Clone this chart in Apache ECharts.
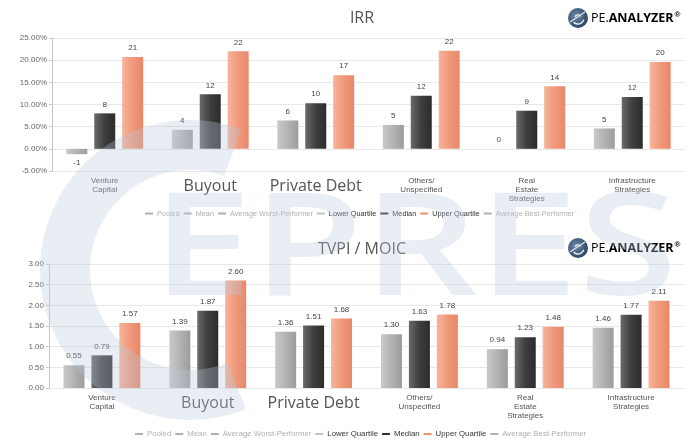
<!DOCTYPE html>
<html>
<head>
<meta charset="utf-8">
<script src="https://cdn.jsdelivr.net/npm/echarts@6/dist/echarts.min.js"></script>
<style>
html,body{margin:0;padding:0;background:#fff;}
#c{width:693px;height:440px;}
</style>
</head>
<body>
<div id="c"></div>
<script>
// ---- data ----
const categories = ['Venture\nCapital', 'Buyout', 'Private Debt', 'Others/\nUnspecified', 'Real\nEstate\nStrategies', 'Infrastructure\nStrategies'];
const bigCategories = ['Buyout', 'Private Debt'];
const seriesNames = ['Pooled', 'Mean', 'Average Worst-Performer', 'Lower Quartile', 'Median', 'Upper Quartile', 'Average Best-Performer'];
const hiddenSeries = ['Pooled', 'Mean', 'Average Worst-Performer', 'Average Best-Performer'];

// IRR in percent
const irrLowerQuartile = [-1.2, 4.3, 6.4, 5.4, 0, 4.6];
const irrMedian = [8.0, 12.3, 10.3, 12.0, 8.6, 11.7];
const irrUpperQuartile = [20.7, 22.0, 16.6, 22.1, 14.1, 19.6];

// TVPI / MOIC multiples
const tvpiLowerQuartile = [0.55, 1.39, 1.36, 1.30, 0.94, 1.46];
const tvpiMedian = [0.79, 1.87, 1.51, 1.63, 1.23, 1.77];
const tvpiUpperQuartile = [1.57, 2.60, 1.68, 1.78, 1.48, 2.11];

const irrTicks = {min: -5, max: 25, interval: 5};
const tvpiTicks = {min: 0, max: 3, interval: 0.5};

// ---- styles ----
const grad = (a, b, c) => new echarts.graphic.LinearGradient(0, 0, 1, 0, [
  {offset: 0, color: a}, {offset: 0.5, color: b}, {offset: 1, color: c}
]);
const colLQ = () => grad('#c9c9c9', '#b3b3b3', '#9c9c9c');
const colMed = () => grad('#6a6a6a', '#3e3e3e', '#2c2c2c');
const colUQ = () => grad('#f7b49b', '#f0997a', '#e8876a');
const legendColors = {
  'Pooled': '#999', 'Mean': '#999', 'Average Worst-Performer': '#999',
  'Lower Quartile': '#c4c4c4', 'Median': '#333', 'Upper Quartile': '#f0916e',
  'Average Best-Performer': '#999'
};

const chart = echarts.init(document.getElementById('c'), null, {renderer: 'canvas'});

const labelFont = 'Liberation Sans, Arial, sans-serif';

function catAxis(gridIndex) {
  return {
    type: 'category', gridIndex, data: categories,
    axisLine: {show: false}, axisTick: {show: false},
    axisLabel: {
      interval: 0, margin: 5, color: '#555',
      formatter: v => bigCategories.includes(v) ? '{big|' + v + '}' : '{s|' + v + '}',
      rich: {
        s: {fontSize: 8, lineHeight: 9, color: '#555', fontFamily: labelFont, align: 'center'},
        big: {fontSize: 16, lineHeight: 20, color: '#555', fontFamily: 'Open Sans, sans-serif'}
      }
    }
  };
}
function valAxis(gridIndex, ticks, fmt) {
  return {
    type: 'value', gridIndex, min: ticks.min, max: ticks.max, interval: ticks.interval,
    axisLine: {show: true, lineStyle: {color: '#c8c8c8'}},
    axisTick: {show: true, length: 3, lineStyle: {color: '#c8c8c8'}},
    splitLine: {lineStyle: {color: '#e8e8e8'}},
    axisLabel: {color: '#666', fontSize: 8, fontFamily: labelFont, margin: 5, formatter: fmt}
  };
}

function barSeries(name, data, xi, colorFn, fmt) {
  const hidden = hiddenSeries.includes(name);
  return {
    name, type: 'bar', xAxisIndex: xi, yAxisIndex: xi,
    barWidth: 21, barGap: '33%',
    itemStyle: {color: colorFn ? colorFn() : '#999'},
    label: {show: true, color: '#444', fontSize: 8, fontFamily: labelFont, distance: 5, formatter: p => fmt(p.value)},
    data: hidden ? [] : data.map(v => ({value: v, label: {position: v < 0 ? 'bottom' : 'top'}}))
  };
}

const irrFmt = v => String(Math.round(v));
const tvpiFmt = v => v.toFixed(2);

const series = [];
function addSet(xi, lq, med, uq, fmt) {
  seriesNames.forEach(n => {
    let d = [], c = null;
    if (n === 'Lower Quartile') { d = lq; c = colLQ; }
    else if (n === 'Median') { d = med; c = colMed; }
    else if (n === 'Upper Quartile') { d = uq; c = colUQ; }
    series.push(barSeries(n, d, xi, c, fmt));
  });
}
addSet(0, irrLowerQuartile, irrMedian, irrUpperQuartile, irrFmt);
addSet(1, tvpiLowerQuartile, tvpiMedian, tvpiUpperQuartile, tvpiFmt);

const selected = {};
seriesNames.forEach(n => selected[n] = !hiddenSeries.includes(n));

function legend(left, top, fs) {
  return {
    left, top, icon: 'rect', itemWidth: 8, itemHeight: 2, itemGap: 4,
    selected, inactiveColor: '#b0b0b0', selectedMode: true,
    textStyle: {fontSize: fs, color: '#333', fontFamily: labelFont, padding: [0, 0, 0, -1]},
    data: seriesNames.map(n => ({name: n, itemStyle: {color: legendColors[n]}}))
  };
}

function logo(x, y) {
  return {
    type: 'group', x: x, y: y, z: 20,
    children: [
      {type: 'circle', shape: {cx: 10, cy: 10, r: 10},
       style: {fill: new echarts.graphic.RadialGradient(0.4, 0.4, 0.7, [{offset: 0, color: '#6f8aa6'}, {offset: 1, color: '#233d5c'}])}},
      {type: 'arc', shape: {cx: 10, cy: 10, r: 6, startAngle: 0.3, endAngle: 2.4}, style: {stroke: '#e8eef4', lineWidth: 1.4, fill: null}},
      {type: 'arc', shape: {cx: 10, cy: 10, r: 3.2, startAngle: 3.5, endAngle: 5.8}, style: {stroke: '#e8eef4', lineWidth: 1.2, fill: null}},
      {type: 'line', shape: {x1: 2, y1: 14, x2: 17, y2: 4}, style: {stroke: '#dfe7ef', lineWidth: 1.1}},
      {type: 'text', x: 23, y: 10, style: {
        text: '{a|PE.}{b|ANALYZER}{c|®}', verticalAlign: 'middle',
        rich: {
          a: {fontSize: 12.5, color: '#5d7a96', fontFamily: 'Open Sans, sans-serif'},
          b: {fontSize: 12.5, color: '#1f3b60', fontWeight: 'bold', fontFamily: 'Open Sans, sans-serif'},
          c: {fontSize: 8, color: '#1f3b60', fontWeight: 'bold', verticalAlign: 'top', padding: [0, 0, 6, 1]}
        }
      }}
    ]
  };
}

const wmColor = 'rgba(185,202,220,0.32)';
const watermark = [
  {type: 'arc', z: 50, silent: true,
   shape: {cx: 190, cy: 270, r: 125, startAngle: 68 * Math.PI / 180, endAngle: 290 * Math.PI / 180, clockwise: true},
   style: {stroke: wmColor, lineWidth: 50, fill: null, lineCap: 'butt'}},
  {type: 'text', z: 50, silent: true, x: 152, y: 182, scaleY: 0.8,
   style: {text: 'EPRES', fontSize: 180, fontWeight: 600, fontFamily: 'Open Sans, sans-serif',
     fill: wmColor, verticalAlign: 'top', align: 'left', lineHeight: 180}}
];

chart.setOption({
  animation: false,
  backgroundColor: '#fff',
  title: [
    {text: 'IRR', left: 357, top: 5, textAlign: 'center', textStyle: {fontSize: 16, fontWeight: 'normal', color: '#555', fontFamily: 'Open Sans, sans-serif'}},
    {text: 'TVPI / MOIC', left: 357, top: 236, textAlign: 'center', textStyle: {fontSize: 16, fontWeight: 'normal', color: '#555', fontFamily: 'Open Sans, sans-serif'}}
  ],
  legend: [legend(140, 205, 7.3), legend(130, 425, 7.8)],
  grid: [
    {left: 52, right: 8, top: 38, bottom: 269, containLabel: false},
    {left: 49, right: 9, top: 264, bottom: 52, containLabel: false}
  ],
  xAxis: [catAxis(0), catAxis(1)],
  yAxis: [
    valAxis(0, irrTicks, v => v.toFixed(2) + '%'),
    valAxis(1, tvpiTicks, v => v.toFixed(2))
  ],
  graphic: [logo(568, 8), logo(568, 238)].concat(watermark),
  series
});
</script>
</body>
</html>
